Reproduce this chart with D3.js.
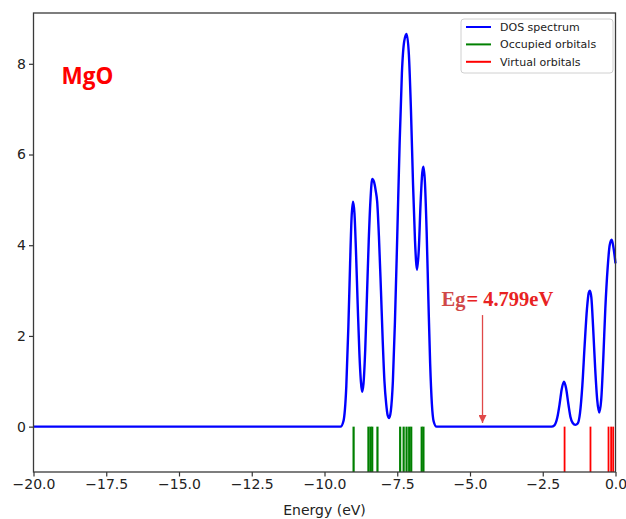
<!DOCTYPE html>
<html>
<head>
<meta charset="utf-8">
<script src="https://cdn.jsdelivr.net/npm/d3@7"></script>
<style>
  html, body { margin: 0; padding: 0; background: #fff; }
  svg { display: block; }
</style>
</head>
<body>
<svg id="chart" width="626" height="519"></svg>
<script>
// ---- data ----
const dosEnergy = [-20, -9.45, -9.35, -9.25, -9.18, -9.12, -9.07, -9.02, -8.97, -8.92, -8.86, -8.80, -8.75, -8.71,
  -8.66, -8.60, -8.54, -8.48, -8.42, -8.36, -8.30, -8.24, -8.19, -8.13, -8.06, -8.00, -7.94, -7.88, -7.83, -7.78,
  -7.72, -7.65, -7.58, -7.50, -7.42, -7.34, -7.26, -7.18, -7.10, -7.03, -6.96, -6.89, -6.82, -6.76, -6.70, -6.64,
  -6.60, -6.55, -6.49, -6.43, -6.37, -6.31, -6.25, -6.15,
  -2.20, -2.10, -2.00, -1.92, -1.85, -1.77, -1.70, -1.62, -1.55, -1.47, -1.38, -1.30, -1.22, -1.14, -1.06, -0.98,
  -0.92, -0.88, -0.83, -0.77, -0.70, -0.63, -0.56, -0.49, -0.42, -0.35, -0.27, -0.20, -0.13, -0.07, 0.0];
const dosValue = [0, 0, 0.12, 0.9, 2.2, 3.6, 4.6, 4.96, 4.7, 3.9, 2.7, 1.6, 1.0, 0.77,
  0.95, 1.7, 2.9, 4.1, 5.0, 5.46, 5.4, 5.2, 4.96, 4.2, 3.0, 1.9, 1.0, 0.5, 0.25, 0.19,
  0.35, 1.0, 2.3, 4.2, 6.2, 7.8, 8.5, 8.66, 8.2, 7.0, 5.4, 4.1, 3.46, 3.9, 4.9, 5.6,
  5.73, 5.4, 4.3, 2.8, 1.4, 0.5, 0.12, 0,
  0, 0.03, 0.2, 0.5, 0.82, 0.99, 0.85, 0.5, 0.22, 0.08, 0.04, 0.07, 0.3, 0.9, 1.8, 2.6,
  2.95, 3.0, 2.85, 2.2, 1.3, 0.6, 0.31, 0.6, 1.5, 2.6, 3.5, 4.0, 4.12, 3.95, 3.6];
const occupiedOrbitals = [-9.00, -8.49, -8.42, -8.36, -8.18, -7.40, -7.28, -7.18, -7.09, -7.02, -6.66, -6.60];
const virtualOrbitals = [-1.75, -0.86, -0.24, -0.15, -0.08];
const xTicks = [-20, -17.5, -15, -12.5, -10, -7.5, -5, -2.5, 0];
const yTicks = [0, 2, 4, 6, 8];
const legendLabels = ["DOS spectrum", "Occupied orbitals", "Virtual orbitals"];
const legendColors = ["#0000ff", "#008000", "#ff0000"];
const gapLabel = "4.799eV";
const gapArrow = { energy: -4.57, from: 2.46, to: 0.08 };
const moleculeLabel = "MgO";

// ---- layout ----
const svg = d3.select("#chart");
const mLeft = 33.5, mRight = 615.5, mTop = 13, mBottom = 472;
const x = d3.scaleLinear().domain([-20, 0]).range([mLeft, mRight]);
const y = d3.scaleLinear().domain([-1, 9.12]).range([mBottom, mTop]);

const plot = svg.append("g");

// orbital sticks
plot.selectAll("line.occ").data(occupiedOrbitals).enter().append("line")
  .attr("class", "occ")
  .attr("x1", d => x(d)).attr("x2", d => x(d))
  .attr("y1", y(0)).attr("y2", y(-1))
  .attr("stroke", "#008000").attr("stroke-width", 2.2);
plot.selectAll("line.virt").data(virtualOrbitals).enter().append("line")
  .attr("class", "virt")
  .attr("x1", d => x(d)).attr("x2", d => x(d))
  .attr("y1", y(0)).attr("y2", y(-1))
  .attr("stroke", "#ff0000").attr("stroke-width", 1.8);

// DOS curve
const dos = dosEnergy.map((e, i) => [e, dosValue[i]]);
const line = d3.line().x(d => x(d[0])).y(d => y(d[1])).curve(d3.curveMonotoneX);
plot.append("path").datum(dos).attr("d", line)
  .attr("fill", "none").attr("stroke", "#0000ff").attr("stroke-width", 2.4)
  .attr("stroke-linejoin", "round");

// axes
const fmt = d => (d < 0 ? "\u2212" : "") + Math.abs(d).toFixed(1);
const xAxis = d3.axisBottom(x).tickValues(xTicks).tickFormat(fmt).tickSize(4.5).tickPadding(3);
const yAxis = d3.axisLeft(y).tickValues(yTicks).tickFormat(d3.format("d")).tickSize(4.5).tickPadding(3);
const gx = svg.append("g").attr("transform", `translate(0,${mBottom})`).call(xAxis);
const gy = svg.append("g").attr("transform", `translate(${mLeft},0)`).call(yAxis);
[gx, gy].forEach(g => {
  g.select(".domain").remove();
  g.selectAll(".tick line").attr("stroke", "#333").attr("stroke-width", 1.2);
  g.selectAll(".tick text").attr("fill", "#222")
    .style("font-family", "'DejaVu Sans', sans-serif").style("font-size", "14px");
});

// frame
svg.append("rect").attr("x", mLeft).attr("y", mTop)
  .attr("width", mRight - mLeft).attr("height", mBottom - mTop)
  .attr("fill", "none").attr("stroke", "#3a3a3a").attr("stroke-width", 1.3);

// x label
svg.append("text").attr("x", (mLeft + mRight) / 2).attr("y", 515)
  .attr("text-anchor", "middle").attr("fill", "#222")
  .style("font-family", "'DejaVu Sans', sans-serif").style("font-size", "14px")
  .text("Energy (eV)");

// molecule label
svg.append("text").attr("x", 61.5).attr("y", 83.5)
  .attr("fill", "#ff0000")
  .style("font-family", "'Open Sans', sans-serif").style("font-weight", "bold").style("font-size", "22.5px")
  .text(moleculeLabel);

// gap annotation
const defs = svg.append("defs");
defs.append("marker").attr("id", "ah").attr("viewBox", "0 0 10 10")
  .attr("refX", 10).attr("refY", 5).attr("markerWidth", 8).attr("markerHeight", 8)
  .attr("markerUnits", "userSpaceOnUse").attr("orient", "auto")
  .append("path").attr("d", "M0,0 L10,5 L0,10 Z").attr("fill", "#e04848");
svg.append("line")
  .attr("x1", x(gapArrow.energy)).attr("x2", x(gapArrow.energy))
  .attr("y1", y(gapArrow.from)).attr("y2", y(gapArrow.to))
  .attr("stroke", "#e04848").attr("stroke-width", 1.3).attr("marker-end", "url(#ah)");
const gt = svg.append("text").attr("x", 441.5).attr("y", 306)
  .style("font-family", "'Liberation Serif', 'Times New Roman', serif")
  .style("font-weight", "bold").style("font-size", "20.5px");
gt.append("tspan").attr("fill", "#d04848").text("Eg");
gt.append("tspan").attr("fill", "#e82222").attr("dx", 1).text("= " + gapLabel);

// legend
const lg = svg.append("g");
lg.append("rect").attr("x", 461).attr("y", 19).attr("width", 152).attr("height", 54)
  .attr("rx", 3).attr("fill", "#fff").attr("fill-opacity", 0.8)
  .attr("stroke", "#d0d0d0").attr("stroke-width", 1);
legendLabels.forEach((lab, i) => {
  const cy = 27 + i * 17.4;
  lg.append("line").attr("x1", 466).attr("x2", 491).attr("y1", cy).attr("y2", cy)
    .attr("stroke", legendColors[i]).attr("stroke-width", 2);
  lg.append("text").attr("x", 500).attr("y", cy + 4).attr("fill", "#222")
    .style("font-family", "'DejaVu Sans', sans-serif").style("font-size", "11px")
    .text(lab);
});
</script>
</body>
</html>
